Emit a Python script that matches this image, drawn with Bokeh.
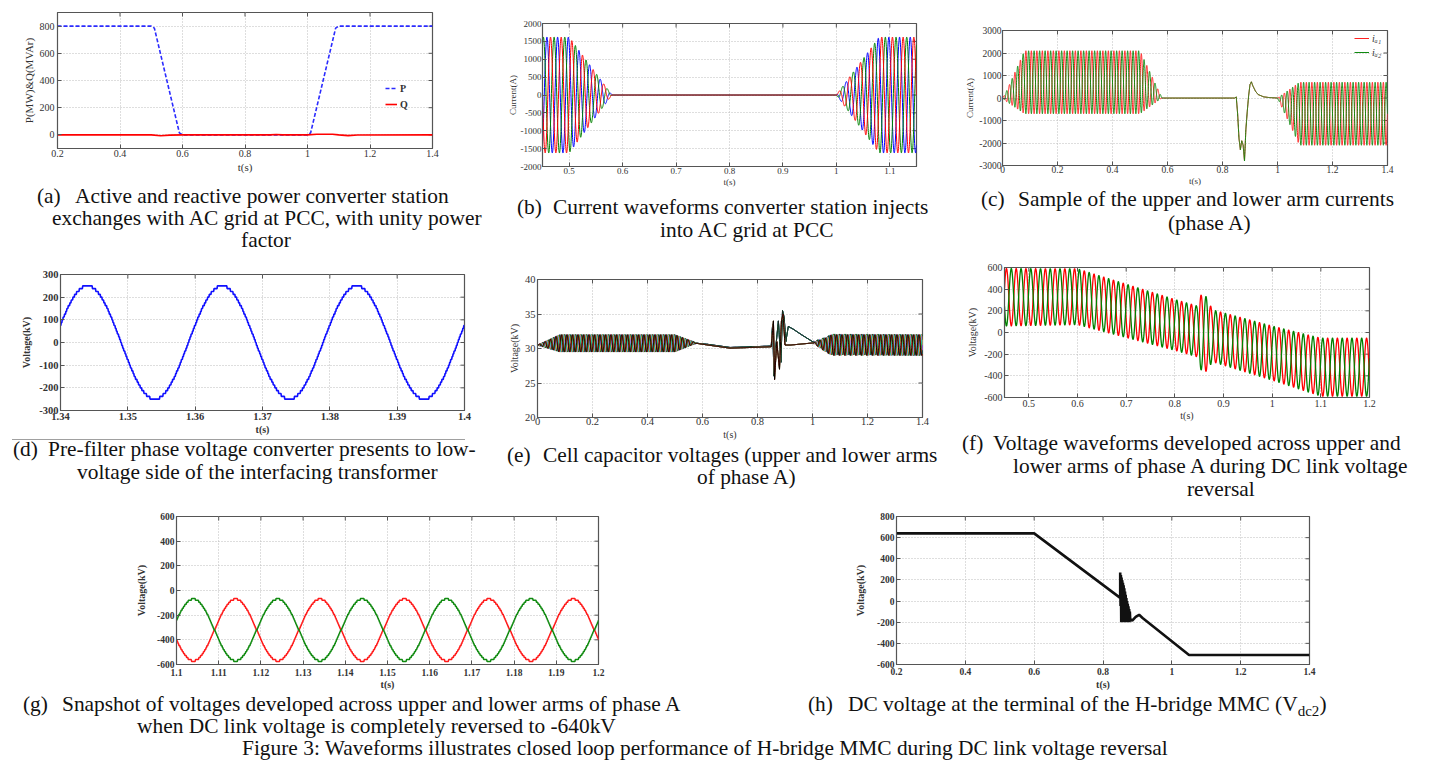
import numpy as np
from bokeh.plotting import figure
from bokeh.models import Range1d, FixedTicker, Legend, LegendItem, Div
from bokeh.layouts import column, row
from bokeh.embed import file_html
from bokeh.resources import INLINE

SERIF = "Liberation Serif"
F0 = 50.0  # grid frequency (Hz)

# ---------------- (a) active / reactive power ----------------
a_t = [0.2, 0.5, 0.51, 0.59, 0.6, 1.0, 1.01, 1.09, 1.1, 1.4]
a_P = [800, 800, 785, 15, 0, 0, 15, 785, 800, 800]
a_Qt = [0.2, 0.5, 0.53, 0.56, 0.6, 0.88, 0.9, 0.92, 1.0, 1.03, 1.08, 1.1, 1.13, 1.16, 1.4]
a_Q = [0, 0, -6, -2, 0, 0, 3, 0, 0, 5, 5, 0, -5, -1, 0]
a_xticks = [0.2, 0.4, 0.6, 0.8, 1.0, 1.2, 1.4]
a_xlabels = ["0.2", "0.4", "0.6", "0.8", "1", "1.2", "1.4"]
a_yticks = [0, 200, 400, 600, 800]
a_ylabels = ["0", "200", "400", "600", "800"]

# ---------------- (b) grid currents ----------------
b_env_t = [0.45, 0.50, 0.58, 1.0, 1.08, 1.15]
b_env_A = [1620, 1620, 0, 0, 1620, 1620]
b_phase_deg = [0, -120, 120]           # red, green, blue
b_colors = ["#ff0000", "#008000", "#0000ff"]
b_order = [2, 1, 0]
b_xticks = [0.5, 0.6, 0.7, 0.8, 0.9, 1.0, 1.1]
b_xlabels = ["0.5", "0.6", "0.7", "0.8", "0.9", "1", "1.1"]
b_yticks = [-2000, -1500, -1000, -500, 0, 500, 1000, 1500, 2000]
b_ylabels = [str(v) for v in b_yticks]

# ---------------- (c) arm currents ----------------
c_env_t = [0.0, 0.01, 0.08, 0.5, 0.58, 1.0, 1.08, 1.4]
c_off = [0, 30, 700, 700, 0, 0, -700, -700]
c_amp = [0, 150, 1400, 1400, 0, 0, 1400, 1400]
c_tr_t = [0.0, 0.845, 0.85, 0.855, 0.86, 0.865, 0.87, 0.875, 0.88, 0.885, 0.89, 0.895,
          0.9, 0.905, 0.91, 0.92, 0.93, 0.94, 0.95, 0.97, 1.0, 1.4]
c_tr_v = [0, 0, 50, -700, -1800, -2300, -1900, -2100, -2800, -1400, -600, 100,
          600, 720, 550, 300, 150, 100, 50, 20, 0, 0]
c_xticks = [0.0, 0.2, 0.4, 0.6, 0.8, 1.0, 1.2, 1.4]
c_xlabels = ["0", "0.2", "0.4", "0.6", "0.8", "1", "1.2", "1.4"]
c_yticks = [-3000, -2000, -1000, 0, 1000, 2000, 3000]
c_ylabels = [str(v) for v in c_yticks]

# ---------------- (d) pre-filter phase voltage ----------------
d_amp = 250.0
d_t0 = 1.339          # upward zero crossing
d_step = 12.5         # staircase level (kV)
d_xticks = [1.34, 1.35, 1.36, 1.37, 1.38, 1.39, 1.40]
d_xlabels = ["1.34", "1.35", "1.36", "1.37", "1.38", "1.39", "1.4"]
d_yticks = [-300, -200, -100, 0, 100, 200, 300]
d_ylabels = [str(v) for v in d_yticks]

# ---------------- (e) cell capacitor voltages ----------------
e_amp_t = [0.0, 0.08, 0.5, 0.58, 1.0, 1.07, 1.4]
e_amp_v = [0.0, 1.25, 1.25, 0.0, 0.0, 1.5, 1.5]
e_up_t = [0.0, 0.08, 0.5, 0.57, 0.62, 0.7, 0.85, 0.855, 0.86, 0.866, 0.876, 0.885, 0.891,
          0.897, 0.903, 0.912, 0.93, 0.96, 1.0, 1.05, 1.4]
e_up_v = [30.5, 30.75, 30.75, 30.8, 30.6, 30.15, 30.35, 33.5, 26.0, 30.0, 34.0, 28.0, 35.5,
          34.5, 31.0, 33.2, 32.8, 32.0, 31.0, 30.6, 30.5]
e_lo_t = [0.0, 0.08, 0.5, 0.57, 0.62, 0.7, 0.85, 0.858, 0.862, 0.87, 0.88, 0.887, 0.893,
          0.9, 0.92, 1.0, 1.05, 1.4]
e_lo_v = [30.5, 30.75, 30.75, 30.8, 30.5, 30.05, 30.25, 34.0, 25.5, 31.0, 27.0, 34.0, 35.0,
          30.5, 30.5, 30.8, 30.5, 30.5]
e_cell_phase = [0.0, 0.5, 1.0, 1.6, 2.1, 2.6]
e_colors = ["#ff00ff", "#00e5ff", "#e6e600", "#0000ff", "#00a000", "#202020",
            "#ffff00", "#ff00ff", "#00ffff", "#00a000", "#ff0000", "#000000"]
e_xticks = [0.0, 0.2, 0.4, 0.6, 0.8, 1.0, 1.2, 1.4]
e_xlabels = ["0", "0.2", "0.4", "0.6", "0.8", "1", "1.2", "1.4"]
e_yticks = [20, 25, 30, 35, 40]
e_ylabels = ["20", "25", "30", "35", "40"]

# ---------------- (f) arm voltages during reversal ----------------
f_c_t = [0.45, 0.6, 1.1, 1.2]
f_c_v = [325, 330, -320, -320]
f_a_t = [0.45, 0.6, 0.8, 0.845, 0.852, 0.868, 0.876, 1.0, 1.1, 1.2]
f_a_v = [265, 258, 235, 235, 345, 345, 240, 250, 268, 268]
f_t0 = 1.099
f_xticks = [0.5, 0.6, 0.7, 0.8, 0.9, 1.0, 1.1, 1.2]
f_xlabels = ["0.5", "0.6", "0.7", "0.8", "0.9", "1", "1.1", "1.2"]
f_yticks = [-600, -400, -200, 0, 200, 400, 600]
f_ylabels = [str(v) for v in f_yticks]

# ---------------- (g) arm voltages snapshot ----------------
g_center = -320.0
g_amp = 250.0
g_t0 = 1.099
g_step = 16.0
g_xticks = [1.10, 1.11, 1.12, 1.13, 1.14, 1.15, 1.16, 1.17, 1.18, 1.19, 1.20]
g_xlabels = ["1.1", "1.11", "1.12", "1.13", "1.14", "1.15", "1.16", "1.17", "1.18", "1.19", "1.2"]
g_yticks = [-600, -400, -200, 0, 200, 400, 600]
g_ylabels = [str(v) for v in g_yticks]

# ---------------- (h) DC voltage ----------------
h_pre_t = [0.2, 0.6, 0.85]
h_pre_v = [640, 640, 30]
h_top_t = [0.850, 0.860, 0.870, 0.878]
h_top_v = [270, 150, 0, -100]
h_bot_t = [0.850, 0.853, 0.878]
h_bot_v = [30, -200, -200]
h_post_t = [0.879, 0.885, 0.895, 0.905, 0.915, 1.05, 1.4]
h_post_v = [-170, -185, -150, -130, -160, -510, -510]
h_xticks = [0.2, 0.4, 0.6, 0.8, 1.0, 1.2, 1.4]
h_xlabels = ["0.2", "0.4", "0.6", "0.8", "1", "1.2", "1.4"]
h_yticks = [-600, -400, -200, 0, 200, 400, 600, 800]
h_ylabels = [str(v) for v in h_yticks]

CAP_PX = 21.4
LH = 17


def cell_fig(cell, frame, xr, yr, xt, xl, yt, yl, ylabel, tick_fs="10px", lab_fs="10px",
             ytick_std=2, xtick_std=1, ylab_std=2, xlab_std=1, bold=False):
    """cell = (x0, y0, x1, y1) page box of the figure; frame = (left, top, right, bottom) of the axes."""
    cx0, cy0, cx1, cy1 = cell
    fl, ft, fr, fb = frame
    p = figure(width=cx1 - cx0, height=cy1 - cy0, x_range=Range1d(*xr), y_range=Range1d(*yr),
               output_backend="svg", toolbar_location=None,
               min_border_left=fl - cx0, min_border_right=cx1 - fr,
               min_border_top=ft - cy0, min_border_bottom=cy1 - fb)
    p.background_fill_color = "white"
    p.border_fill_color = "white"
    p.outline_line_color = "#555555"
    p.outline_line_width = 1.2
    xa, ya = p.xaxis[0], p.yaxis[0]
    xa.ticker = FixedTicker(ticks=xt)
    ya.ticker = FixedTicker(ticks=yt)
    xa.major_label_overrides = {t: s for t, s in zip(xt, xl)}
    ya.major_label_overrides = {t: s for t, s in zip(yt, yl)}
    xa.axis_label = "t(s)"
    ya.axis_label = ylabel
    for ax in (xa, ya):
        ax.minor_tick_line_color = None
        ax.major_tick_in = 4
        ax.major_tick_out = 0
        ax.axis_line_color = "#555555"
        ax.major_tick_line_color = "#555555"
        ax.major_label_text_font = SERIF
        ax.major_label_text_font_size = tick_fs
        ax.major_label_text_color = "#333333"
        ax.axis_label_text_font = SERIF
        ax.axis_label_text_font_size = lab_fs
        ax.axis_label_text_font_style = "bold" if bold else "normal"
        ax.axis_label_text_color = "#333333"
        if bold:
            ax.major_label_text_font_style = "bold"
    xa.major_label_standoff = xtick_std
    ya.major_label_standoff = ytick_std
    xa.axis_label_standoff = xlab_std
    ya.axis_label_standoff = ylab_std
    p.grid.grid_line_color = "#bcbcbc"
    p.grid.grid_line_dash = "1 2"
    p.grid.grid_line_width = 1
    # MATLAB-style box: inward ticks on the top and right edges too
    p.ray(x=list(xt), y=[yr[1]] * len(xt), length=4, angle=-np.pi / 2, length_units="screen",
          line_color="#555555", line_width=1)
    p.ray(x=[xr[1]] * len(yt), y=list(yt), length=4, angle=np.pi, length_units="screen",
          line_color="#555555", line_width=1)
    return p


def caption_div(box, items, seps=()):
    """box = (x0, y0, x1, y1) page box; items = (x, y_center, html, align)."""
    x0, y0, x1, y1 = box
    parts = []
    for (sx0, sx1, sy) in seps:
        parts.append(f'<div style="position:absolute;left:{sx0 - x0}px;top:{sy - y0}px;'
                     f'width:{sx1 - sx0}px;height:1px;background-color:#a0a0a0;"></div>')
    for (x, y, s, align) in items:
        tr = "transform:translateX(-50%);" if align == "center" else ""
        parts.append(f'<span style="position:absolute;display:inline-block;left:{x - x0}px;'
                     f'top:{y - y0 - LH / 2}px;height:{LH}px;{tr}'
                     f'font-family:\'{SERIF}\';font-size:{CAP_PX}px;line-height:{LH}px;'
                     f'white-space:nowrap;overflow:visible;color:#111111;">{s}</span>')
    html = (f'<div style="position:relative;width:{x1 - x0}px;height:{y1 - y0}px;overflow:visible;">'
            + "".join(parts) + "</div>")
    return Div(text=html, width=x1 - x0, height=y1 - y0, margin=0)


# ===== (a)
fa = cell_fig((0, 0, 490, 185), (57, 12, 432, 148), (0.2, 1.4), (-100, 900), a_xticks, a_xlabels,
              a_yticks, a_ylabels, "P(MW)&Q(MVAr)", tick_fs="10px", lab_fs="11px",
              ytick_std=3, xtick_std=1, ylab_std=2, xlab_std=1)
rP = fa.line(a_t, a_P, line_color="#2b2bff", line_width=1.6, line_dash="4 2")
rQ = fa.line(a_Qt, a_Q, line_color="#ff0000", line_width=1.6)
fa.add_layout(Legend(items=[LegendItem(label="P", renderers=[rP]), LegendItem(label="Q", renderers=[rQ])],
                     location=(328, 37), padding=2, margin=0, spacing=2, glyph_width=12, glyph_height=14,
                     label_height=14, label_standoff=3, border_line_color=None, background_fill_alpha=0,
                     label_text_font=SERIF, label_text_font_size="10px", label_text_font_style="bold",
                     label_text_color="#333333"))
ca = caption_div((0, 185, 490, 250), [
    (37, 196, "(a)", "left"),
    (75, 196, "Active and reactive power converter station", "left"),
    (52, 218, "exchanges with AC grid at PCC, with unity power", "left"),
    (266, 240, "factor", "center")])

# ===== (b)
fb = cell_fig((490, 0, 950, 190), (542, 23, 916, 166), (0.45, 1.15), (-2000, 2000), b_xticks, b_xlabels,
              b_yticks, b_ylabels, "Current(A)", tick_fs="9px", lab_fs="9px",
              ytick_std=1, xtick_std=1, ylab_std=0, xlab_std=0)
tb = np.linspace(0.45, 1.15, 2801)
envb = np.interp(tb, b_env_t, b_env_A)
for k in b_order:
    ib = envb * np.sin(2 * np.pi * F0 * tb + np.deg2rad(b_phase_deg[k]))
    fb.line(tb, ib, line_color=b_colors[k], line_width=1.0)
cb = caption_div((490, 190, 950, 250), [
    (517, 207.5, "(b)", "left"),
    (553, 207.5, "Current waveforms converter station injects", "left"),
    (660, 230.5, "into AC grid at PCC", "left")])

# ===== (c)
fc = cell_fig((950, 0, 1428, 188), (1002, 30, 1387, 166), (0.0, 1.4), (-3000, 3000), c_xticks, c_xlabels,
              c_yticks, c_ylabels, "Current(A)", tick_fs="9.5px", lab_fs="9px",
              ytick_std=1, xtick_std=0, ylab_std=1, xlab_std=0)
tc = np.linspace(0.0, 1.4, 5601)
offc = np.interp(tc, c_env_t, c_off)
ampc = np.interp(tc, c_env_t, c_amp)
trc = np.interp(tc, c_tr_t, c_tr_v)
sc = np.sin(2 * np.pi * F0 * tc)
r1 = fc.line(tc, offc + ampc * sc + trc, line_color="#ff2020", line_width=1.0)
r2 = fc.line(tc, offc - ampc * sc + trc, line_color="#108a10", line_width=1.0)
fc.add_layout(Legend(items=[LegendItem(label="iₐ₁", renderers=[r1]), LegendItem(label="iₐ₂", renderers=[r2])],
                     location=(352, 107), padding=2, margin=0, spacing=2, glyph_width=15, glyph_height=12,
                     label_height=12, label_standoff=3, border_line_color=None, background_fill_alpha=0,
                     label_text_font=SERIF, label_text_font_size="10px", label_text_font_style="italic",
                     label_text_color="#333333"))
cc = caption_div((950, 188, 1428, 250), [
    (981, 199.5, "(c)", "left"),
    (1018, 199.5, "Sample of the upper and lower arm currents", "left"),
    (1168, 223, "(phase A)", "left")])

# ===== (d)
fd = cell_fig((0, 250, 495, 438), (60, 274, 464, 410), (1.34, 1.40), (-300, 300), d_xticks, d_xlabels,
              d_yticks, d_ylabels, "Voltage(kV)", tick_fs="10.5px", lab_fs="10px",
              ytick_std=2, xtick_std=2, ylab_std=4, xlab_std=1, bold=True)
td = np.linspace(1.34, 1.40, 1201)
vd = np.round(d_amp * np.sin(2 * np.pi * F0 * (td - d_t0)) / d_step) * d_step
fd.line(td, vd, line_color="#1010ff", line_width=1.6)
cd = caption_div((0, 438, 495, 500), [
    (13, 449, "(d)", "left"),
    (48, 449, "Pre-filter phase voltage converter presents to low-", "left"),
    (77, 472.5, "voltage side of the interfacing transformer", "left")],
    seps=[(12, 465, 439)])

# ===== (e)
fe = cell_fig((495, 250, 950, 443), (537, 279, 922, 417), (0.0, 1.4), (20, 40), e_xticks, e_xlabels,
              e_yticks, e_ylabels, "Voltage(kV)", tick_fs="10.5px", lab_fs="10px",
              ytick_std=2, xtick_std=0, ylab_std=2, xlab_std=1)
te = np.linspace(0.0, 1.4, 2801)
ampe = np.interp(te, e_amp_t, e_amp_v)
cu = np.interp(te, e_up_t, e_up_v)
cl = np.interp(te, e_lo_t, e_lo_v)
k = 0
for arm_c, arm_shift in ((cu, 0.0), (cl, np.pi)):
    for ph in e_cell_phase:
        ve = arm_c + ampe * np.sin(2 * np.pi * F0 * te + ph + arm_shift)
        fe.line(te, ve, line_color=e_colors[k], line_width=0.9)
        k += 1
ce = caption_div((495, 443, 950, 500), [
    (507, 455, "(e)", "left"),
    (543, 455, "Cell capacitor voltages (upper and lower arms", "left"),
    (697, 477, "of phase A)", "left")])

# ===== (f)
ff = cell_fig((950, 250, 1428, 430), (1004, 267, 1369, 397), (0.45, 1.2), (-600, 600), f_xticks, f_xlabels,
              f_yticks, f_ylabels, "Voltage(kV)", tick_fs="10px", lab_fs="10px",
              ytick_std=2, xtick_std=2, ylab_std=3, xlab_std=0)
tf = np.linspace(0.45, 1.2, 3751)
cf_ = np.interp(tf, f_c_t, f_c_v)
af = np.interp(tf, f_a_t, f_a_v)
sf = np.sin(2 * np.pi * F0 * (tf - f_t0))
ff.line(tf, cf_ - af * sf, line_color="#ff0000", line_width=1.3)
ff.line(tf, cf_ + af * sf, line_color="#008000", line_width=1.3)
cf = caption_div((950, 430, 1428, 500), [
    (962, 443.5, "(f)", "left"),
    (993, 443.5, "Voltage waveforms developed across upper and", "left"),
    (1013, 466.5, "lower arms of phase A during DC link voltage", "left"),
    (1187, 489, "reversal", "left")])

# ===== (g)
fg = cell_fig((0, 500, 720, 693), (176, 516, 598, 664), (1.1, 1.2), (-600, 600), g_xticks, g_xlabels,
              g_yticks, g_ylabels, "Voltage(kV)", tick_fs="9.5px", lab_fs="10px",
              ytick_std=2, xtick_std=4, ylab_std=7, xlab_std=0, bold=True)
tg = np.linspace(1.1, 1.2, 1001)
sg = np.sin(2 * np.pi * F0 * (tg - g_t0))
fg.line(tg, np.round((g_center - g_amp * sg) / g_step) * g_step, line_color="#ff1a1a", line_width=1.5)
fg.line(tg, np.round((g_center + g_amp * sg) / g_step) * g_step, line_color="#108a10", line_width=1.5)

# ===== (h)
fh = cell_fig((720, 500, 1428, 693), (896, 516, 1309, 665), (0.2, 1.4), (-600, 800), h_xticks, h_xlabels,
              h_yticks, h_ylabels, "Voltage(kV)", tick_fs="9.5px", lab_fs="10px",
              ytick_std=2, xtick_std=3, ylab_std=8, xlab_std=1, bold=True)
t_osc = np.arange(0.850, 0.8781, 0.001)
top = np.interp(t_osc, h_top_t, h_top_v)
bot = np.interp(t_osc, h_bot_t, h_bot_v)
v_osc = np.where(np.arange(len(t_osc)) % 2 == 0, top, bot)
th = np.concatenate([h_pre_t, t_osc, h_post_t])
vh = np.concatenate([h_pre_v, v_osc, h_post_v])
fh.line(th, vh, line_color="#111111", line_width=2.6)

c3 = caption_div((0, 693, 1428, 764), [
    (23, 704, "(g)", "left"),
    (62, 704, "Snapshot of voltages developed across upper and lower arms of phase A", "left"),
    (137, 726, "when DC link voltage is completely reversed to -640kV", "left"),
    (808, 704, "(h)", "left"),
    (848, 704, "DC voltage at the terminal of the H-bridge MMC (V<sub style=\"font-size:15px;line-height:0;\">dc2</sub>)", "left"),
    (242, 748, "Figure 3: Waveforms illustrates closed loop performance of H-bridge MMC during DC link voltage reversal", "left")])

layout = column(
    row(column(fa, ca), column(fb, cb), column(fc, cc)),
    row(column(fd, cd), column(fe, ce), column(ff, cf)),
    row(fg, fh),
    c3,
)

open("out.html", "w").write(file_html(layout, INLINE))
